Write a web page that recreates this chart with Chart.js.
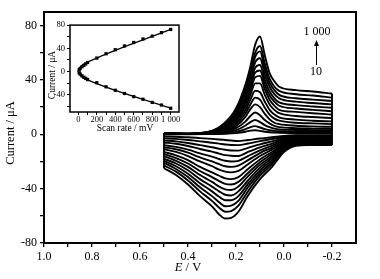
<!DOCTYPE html>
<html><head><meta charset="utf-8">
<script src="https://cdn.jsdelivr.net/npm/chart.js@4/dist/chart.umd.min.js"></script>
<style>
body{margin:0;background:#fff}
#wrap{position:relative;width:380px;height:279px;background:#fff}
canvas{position:absolute}
</style>
</head><body>
<div id="wrap">
<canvas id="main" width="380" height="279" style="left:0;top:0"></canvas>
<canvas id="inset" width="145" height="122" style="left:40px;top:18px"></canvas>
</div>
<script>
// ---- main CV data (E in V, current in µA) ----
const E_FWD = [0.5, 0.4, 0.32, 0.25, 0.2, 0.16, 0.14, 0.12, 0.1, 0.08, 0.06, 0.04, 0.02, -0.05, -0.12, -0.2];
const E_REV = [0.5, 0.45, 0.4, 0.35, 0.3, 0.27, 0.245, 0.22, 0.19, 0.15, 0.1, 0.05, 0, -0.05, -0.1, -0.2];
const FWD_CURRENTS = [
  [1, 0.5, 1.5, 8, 19, 37, 50, 66, 72, 58, 45, 39, 35, 32.5, 31.5, 30],
  [1, 0.5, 1.5, 7, 17, 34, 46, 60, 65, 52, 41, 35, 32, 29.5, 28.5, 27],
  [1, 0.5, 1.5, 6.5, 16, 32, 44, 57, 61, 48, 38, 32.5, 29, 26.5, 25.5, 24.5],
  [0.8, 0.4, 1.2, 6, 15, 30, 41, 53, 56, 44, 35, 29.5, 26.5, 24, 23, 22],
  [0.8, 0.4, 1.2, 5.5, 13.5, 27, 38, 49, 51, 40, 31.5, 26.5, 23.5, 21.5, 20.5, 19.5],
  [0.7, 0.3, 1, 5, 12.5, 25, 35, 45.5, 47, 36.5, 28.5, 24, 21, 19, 18, 17],
  [0.6, 0.3, 1, 4.5, 11, 23, 32, 42, 43, 33, 25.5, 21, 18, 16.5, 15.5, 14.5],
  [0.5, 0.3, 0.8, 4, 10, 20.5, 29, 37.5, 37.5, 29, 22, 18, 15.5, 13.5, 12.7, 12],
  [0.4, 0.2, 0.7, 3.5, 8.5, 18, 25.5, 32, 31, 24, 18, 14.5, 12.5, 10.8, 10, 9.5],
  [0.3, 0.2, 0.6, 3, 7.5, 15.5, 22, 27, 25.5, 19.5, 14.5, 11.5, 10, 8.5, 8, 7.5],
  [0.3, 0.1, 0.5, 2.5, 6, 13, 18.5, 22, 20, 15, 11, 8.5, 7.5, 6.3, 5.8, 5.5],
  [0.2, 0.1, 0.4, 2, 4.5, 9.5, 13.5, 16, 14, 10.5, 8, 6.2, 5.3, 4.5, 4.2, 4],
  [0.2, 0.1, 0.3, 1.3, 3, 6.5, 9, 10.5, 9, 6.8, 5.2, 4.2, 3.6, 3.2, 3.1, 3],
  [0.1, 0.1, 0.2, 0.8, 1.8, 3.8, 5.3, 6, 5, 3.8, 3, 2.5, 2.2, 2.1, 2, 2],
  [0, 0, 0.1, 0.4, 0.9, 1.9, 2.7, 3, 2.5, 1.9, 1.5, 1.3, 1.1, 1, 1, 1]
];
const REV_CURRENTS = [
  [-25, -30, -37, -45.5, -53, -59, -62, -61.5, -57, -45, -33, -24, -13, -8.5, -8, -8],
  [-23, -27.5, -34, -42, -49, -54, -57, -56.5, -52.5, -42, -30.5, -22, -12, -7.8, -7.4, -7.4],
  [-21, -25.5, -31.5, -39, -45.5, -50, -53, -52.5, -49, -39, -28.5, -20.5, -11, -7.2, -6.8, -6.8],
  [-19.5, -23.5, -29, -36, -42, -46, -48.5, -48.5, -45.5, -36.5, -26.5, -19, -10.3, -6.6, -6.3, -6.3],
  [-18, -21.5, -26.5, -33, -38.5, -42, -44.5, -45, -42, -34, -24.5, -17.5, -9.6, -6.1, -5.8, -5.8],
  [-16, -19.5, -24, -30, -35, -38.5, -40.5, -41, -38.5, -31, -22.5, -16, -8.8, -5.6, -5.3, -5.3],
  [-14.5, -17.5, -21.5, -27, -31.5, -34.5, -36.5, -37, -35, -28.5, -20.5, -14.5, -8, -5, -4.8, -4.8],
  [-13, -15.5, -19, -24, -28, -30.5, -32.5, -33, -31.5, -25.5, -18.5, -13, -7.2, -4.5, -4.3, -4.3],
  [-11, -13, -16, -20, -23.5, -26, -27.5, -28, -27, -22, -16, -11.3, -6.3, -3.8, -3.6, -3.6],
  [-9.5, -11, -13.5, -17, -20, -22, -23.5, -24, -23, -19, -13.8, -9.8, -5.5, -3.3, -3.1, -3.1],
  [-8, -9.3, -11.3, -14, -16.5, -18.2, -19.5, -20, -19.5, -16, -11.8, -8.3, -4.7, -2.7, -2.6, -2.6],
  [-6, -7, -8.6, -10.8, -12.8, -14.2, -15.3, -15.8, -16, -13, -9.6, -6.8, -3.8, -2.2, -2.1, -2.1],
  [-4.5, -5.2, -6.4, -8, -9.5, -10.6, -11.4, -11.9, -12, -10, -7.4, -5.2, -2.9, -1.6, -1.5, -1.5],
  [-3, -3.4, -4.2, -5.2, -6.2, -6.9, -7.5, -7.9, -8, -6.8, -5, -3.5, -2, -1.1, -1, -1],
  [-1.5, -1.8, -2.2, -2.8, -3.4, -3.8, -4.2, -4.6, -5, -4.2, -3.1, -2.2, -1.2, -0.7, -0.6, -0.6]
];
const X_TICK_LABELS = ['1.0', '0.8', '0.6', '0.4', '0.2', '0.0', '-0.2'];
const Y_TICK_LABELS = ['80', '40', '0', '-40', '-80'];

// ---- inset data ----
const SCAN_RATES = [10, 20, 40, 60, 80, 100, 200, 300, 400, 500, 600, 700, 800, 900, 1000];
const IPC = [3, 5, 8, 10.5, 13, 15.5, 23, 30.5, 37.5, 44, 50, 56, 61, 67, 72.5];
const IPA = [-2.5, -4.5, -7.5, -10, -12, -14, -19.5, -26.5, -32.5, -38, -43.5, -48, -53.5, -58, -63.5];
const FIT_X = [-5, 10, 40, 100, 1000];
const FIT_UP = [0, 5, 10.5, 16, 72.5];
const FIT_DOWN = [0, -4.5, -9.5, -14.5, -63.5];
const INSET_X_LABELS = ['0', '200', '400', '600', '800', '1 000'];
const INSET_Y_LABELS = ['80', '40', '0', '-40'];

const SERIF = '"Liberation Serif", "Times New Roman", serif';

// ---- build main datasets ----
const datasets = [];
FWD_CURRENTS.forEach((row) => {
  datasets.push({data: E_FWD.map((e, i) => ({x: e, y: row[i]})), showLine: true,
    borderColor: '#000', borderWidth: 1.9, pointRadius: 0, cubicInterpolationMode: 'monotone'});
});
REV_CURRENTS.forEach((row) => {
  datasets.push({data: E_REV.map((e, i) => ({x: e, y: row[i]})), showLine: true,
    borderColor: '#000', borderWidth: 1.9, pointRadius: 0, cubicInterpolationMode: 'monotone'});
});
const conn = [];
FWD_CURRENTS.forEach((row, k) => {
  const rev = REV_CURRENTS[k];
  conn.push({x: E_REV[0], y: rev[0]}, {x: E_FWD[0], y: row[0]}, {x: E_FWD[0], y: null});
  conn.push({x: E_FWD[E_FWD.length - 1], y: row[row.length - 1]},
            {x: E_REV[E_REV.length - 1], y: rev[rev.length - 1]}, {x: E_REV[E_REV.length - 1], y: null});
});
datasets.push({data: conn, showLine: true, spanGaps: false, borderColor: '#000', borderWidth: 1.9, pointRadius: 0, tension: 0});

const boxPlugin = (lw) => ({
  id: 'box',
  afterDraw(chart) {
    const {ctx, chartArea: a} = chart;
    ctx.save();
    ctx.strokeStyle = '#000';
    ctx.lineWidth = lw;
    ctx.strokeRect(a.left, a.top, a.right - a.left, a.bottom - a.top);
    ctx.restore();
  }
});

const mainText = {
  id: 'mainText',
  afterDraw(chart) {
    const ctx = chart.ctx;
    ctx.save();
    ctx.fillStyle = '#000';
    ctx.textBaseline = 'middle';
    ctx.save();
    ctx.translate(11, 133);
    ctx.rotate(-Math.PI / 2);
    ctx.font = '12.5px ' + SERIF;
    ctx.textAlign = 'center';
    ctx.fillText('Current / \u03bcA', 0, 0);
    ctx.restore();
    ctx.font = 'italic 12.5px ' + SERIF;
    const wE = ctx.measureText('E').width;
    ctx.font = '12.5px ' + SERIF;
    const wR = ctx.measureText(' / V').width;
    const x0 = 188 - (wE + wR) / 2;
    ctx.textAlign = 'left';
    ctx.font = 'italic 12.5px ' + SERIF;
    ctx.fillText('E', x0, 268);
    ctx.font = '12.5px ' + SERIF;
    ctx.fillText(' / V', x0 + wE, 268);
    ctx.font = '12px ' + SERIF;
    ctx.textAlign = 'center';
    ctx.fillText('1 000', 317, 32);
    ctx.fillText('10', 316, 72);
    ctx.strokeStyle = '#000';
    ctx.lineWidth = 1;
    ctx.beginPath();
    ctx.moveTo(316.5, 65);
    ctx.lineTo(316.5, 44);
    ctx.stroke();
    ctx.beginPath();
    ctx.moveTo(316.5, 40);
    ctx.lineTo(314, 46);
    ctx.lineTo(319, 46);
    ctx.closePath();
    ctx.fill();
    ctx.restore();
  }
};

new Chart(document.getElementById('main'), {
  type: 'scatter',
  data: {datasets},
  options: {
    responsive: false, animation: false, devicePixelRatio: 1,
    layout: {padding: {top: 12, right: 24, left: 0, bottom: 0}},
    plugins: {legend: {display: false}, tooltip: {enabled: false}},
    scales: {
      x: {
        type: 'linear', reverse: true, min: -0.3, max: 1.0,
        afterBuildTicks(s) { s.ticks = s.ticks.filter(t => t.value > -0.25 && t.value < 1.05); },
        afterFit(s) { s.height = 36; },
        ticks: {stepSize: 0.1, includeBounds: false, autoSkip: false, maxRotation: 0, color: '#000', padding: 3,
          font: {family: SERIF, size: 12},
          callback(v) { const n = Math.round(v * 10); return (n % 2 === 0) ? X_TICK_LABELS[(10 - n) / 2] : ''; }},
        grid: {drawOnChartArea: false, tickLength: 4, color: '#000', lineWidth: 1.3},
        border: {display: false}
      },
      y: {
        type: 'linear', min: -80, max: 90,
        afterBuildTicks(s) { s.ticks = s.ticks.filter(t => t.value <= 80); },
        afterFit(s) { s.width = 44; },
        ticks: {stepSize: 20, includeBounds: false, autoSkip: false, color: '#000', padding: 3,
          font: {family: SERIF, size: 12},
          callback(v) { const n = Math.round(v); return (n % 40 === 0) ? Y_TICK_LABELS[(80 - n) / 40] : ''; }},
        grid: {drawOnChartArea: false, tickLength: 4, color: '#000', lineWidth: 1.3},
        border: {display: false}
      }
    }
  },
  plugins: [boxPlugin(2), mainText]
});

// ---- inset ----
const insetText = {
  id: 'insetText',
  afterDraw(chart) {
    const ctx = chart.ctx;
    ctx.save();
    ctx.fillStyle = '#000';
    ctx.textBaseline = 'middle';
    ctx.textAlign = 'center';
    ctx.font = '9.5px ' + SERIF;
    ctx.save();
    ctx.translate(12, 57);
    ctx.rotate(-Math.PI / 2);
    ctx.fillText('Current / \u03bcA', 0, 0);
    ctx.restore();
    ctx.fillText('Scan rate / mV', 85, 110);
    ctx.restore();
  }
};

new Chart(document.getElementById('inset'), {
  type: 'scatter',
  data: {datasets: [
    {data: SCAN_RATES.map((s, i) => ({x: s, y: IPC[i]})), pointStyle: 'rect', pointRadius: 2.3,
     backgroundColor: '#000', borderColor: '#000', borderWidth: 0},
    {data: SCAN_RATES.map((s, i) => ({x: s, y: IPA[i]})), pointStyle: 'rect', pointRadius: 2.3,
     backgroundColor: '#000', borderColor: '#000', borderWidth: 0},
    {data: FIT_X.map((s, i) => ({x: s, y: FIT_UP[i]})), showLine: true, pointRadius: 0,
     borderColor: '#000', borderWidth: 1.3, cubicInterpolationMode: 'monotone'},
    {data: FIT_X.map((s, i) => ({x: s, y: FIT_DOWN[i]})), showLine: true, pointRadius: 0,
     borderColor: '#000', borderWidth: 1.3, cubicInterpolationMode: 'monotone'}
  ]},
  options: {
    responsive: false, animation: false, devicePixelRatio: 1,
    layout: {padding: {top: 7, right: 6, left: 0, bottom: 0}},
    plugins: {legend: {display: false}, tooltip: {enabled: false}},
    scales: {
      x: {
        type: 'linear', min: -90, max: 1090,
        afterBuildTicks(s) { s.ticks = s.ticks.filter(t => t.value >= -1 && t.value <= 1001); },
        afterFit(s) { s.height = 28; },
        ticks: {stepSize: 100, includeBounds: false, autoSkip: false, maxRotation: 0, color: '#000', padding: 0,
          font: {family: SERIF, size: 8.5},
          callback(v) { const n = Math.round(v); return (n % 200 === 0) ? INSET_X_LABELS[n / 200] : ''; }},
        grid: {drawOnChartArea: false, tickLength: 3, color: '#000', lineWidth: 1},
        border: {display: false}
      },
      y: {
        type: 'linear', min: -70, max: 80,
        afterBuildTicks(s) { s.ticks = s.ticks.filter(t => t.value >= -61 && t.value <= 81); },
        afterFit(s) { s.width = 30; },
        ticks: {stepSize: 20, includeBounds: false, autoSkip: false, color: '#000', padding: 2,
          font: {family: SERIF, size: 8.5},
          callback(v) { const n = Math.round(v); return (n % 40 === 0) ? INSET_Y_LABELS[(80 - n) / 40] : ''; }},
        grid: {drawOnChartArea: false, tickLength: 3, color: '#000', lineWidth: 1},
        border: {display: false}
      }
    }
  },
  plugins: [boxPlugin(1.5), insetText]
});
</script>
</body></html>
